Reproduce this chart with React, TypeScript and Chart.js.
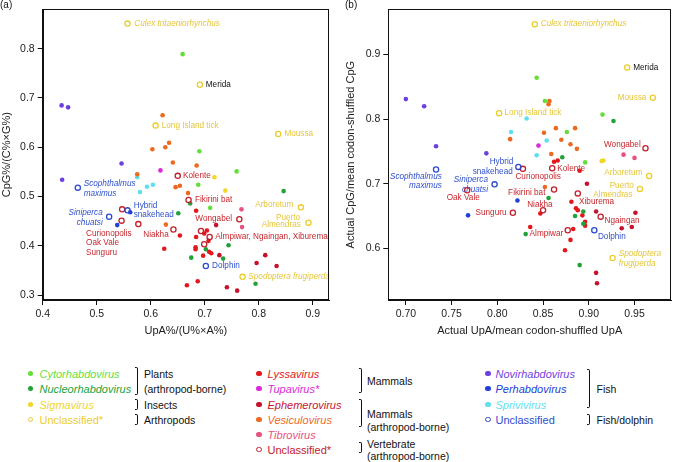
import React, { useEffect, useRef } from "react";
import { Chart, registerables } from "chart.js";

Chart.register(...registerables);

const FONT = '"Liberation Sans", Arial, Helvetica, sans-serif';

// ---------- colours ----------
const COL = {
  cyto: "#64df3a",
  nucleo: "#21a238",
  sigma: "#f0d62a",
  unclIns: "#eccd2e",
  lyssa: "#e3181d",
  tupa: "#dc2ad8",
  ephem: "#c6132d",
  vesic: "#ec6a1f",
  tibro: "#e6517e",
  unclMam: "#c4202c",
  novi: "#6e3fe0",
  perh: "#2040d8",
  spriv: "#5fe0f0",
  unclFish: "#2c4bd2",
};
const TXT_Y = "#e6c63a";
const TXT_R = "#c8262d";
const TXT_B = "#3050cc";

// ---------- panel (a): UpA%/(U%xA%) vs CpG%/(C%xG%) ----------
const cytoA = [[0.659, 0.789], [0.690, 0.592], [0.759, 0.551], [0.688, 0.524], [0.710, 0.477]];
const nucleoA = [[0.846, 0.511], [0.673, 0.486], [0.651, 0.466], [0.702, 0.393], [0.744, 0.401], [0.675, 0.376], [0.734, 0.374], [0.794, 0.323]];
const sigmaA = [[0.718, 0.539], [0.738, 0.512]];
const unclInsA = [[0.557, 0.851], [0.691, 0.727], [0.609, 0.644], [0.836, 0.627], [0.878, 0.478], [0.892, 0.447], [0.770, 0.337]];
const lyssaA = [[0.684, 0.471], [0.654, 0.421], [0.699, 0.425], [0.704, 0.431], [0.684, 0.418], [0.707, 0.410], [0.625, 0.394], [0.683, 0.397], [0.683, 0.393], [0.708, 0.388], [0.712, 0.385], [0.697, 0.380], [0.667, 0.320], [0.687, 0.328]];
const ephemA = [[0.721, 0.442], [0.727, 0.381], [0.812, 0.381], [0.796, 0.365], [0.833, 0.359], [0.741, 0.316], [0.760, 0.309]];
const tupaA = [[0.618, 0.553]];
const vesicA = [[0.622, 0.665], [0.634, 0.609], [0.603, 0.596], [0.627, 0.600], [0.641, 0.569], [0.685, 0.563], [0.575, 0.545], [0.646, 0.519], [0.654, 0.522], [0.669, 0.507], [0.628, 0.443]];
const tibroA = [[0.768, 0.474], [0.769, 0.438]];
const unclMamA = [[0.650, 0.542], [0.670, 0.493], [0.547, 0.474], [0.546, 0.451], [0.577, 0.444], [0.764, 0.454], [0.642, 0.433], [0.693, 0.430], [0.709, 0.418], [0.699, 0.403]];
const noviA = [[0.435, 0.685], [0.447, 0.681], [0.546, 0.567], [0.436, 0.534]];
const perhA = [[0.562, 0.468], [0.538, 0.442]];
const sprivA = [[0.575, 0.539], [0.593, 0.520], [0.604, 0.524], [0.580, 0.509]];
const unclFishA = [[0.465, 0.518], [0.557, 0.472], [0.523, 0.459], [0.702, 0.359]];

const xTicksA = [0.4, 0.5, 0.6, 0.7, 0.8, 0.9];
const yTicksA = [0.3, 0.4, 0.5, 0.6, 0.7, 0.8];

// label anchors (data units): text, x, y, colour, align, italic
const labelsA = [
  ["Culex tritaeniorhynchus", 0.5696, 0.8513, TXT_Y, "left", true],
  ["Merida", 0.7019, 0.727, "#111", "left", false],
  ["Long Island tick", 0.6204, 0.644, TXT_Y, "left", false],
  ["Moussa", 0.8474, 0.627, TXT_Y, "left", false],
  ["Scophthalmus", 0.4759, 0.525, TXT_B, "left", true],
  ["maximus", 0.4759, 0.5067, TXT_B, "left", true],
  ["Kolente", 0.6598, 0.542, TXT_R, "left", false],
  ["Fikirini bat", 0.682, 0.4934, TXT_R, "left", false],
  ["Hybrid", 0.5685, 0.4816, TXT_B, "left", false],
  ["snakehead", 0.5685, 0.4632, TXT_B, "left", false],
  ["Siniperca", 0.5111, 0.4678, TXT_B, "right", true],
  ["chuatsi", 0.5111, 0.4467, TXT_B, "right", true],
  ["Curionopolis", 0.4802, 0.4244, TXT_R, "left", false],
  ["Oak Vale", 0.4802, 0.406, TXT_R, "left", false],
  ["Sunguru", 0.4802, 0.3869, TXT_R, "left", false],
  ["Niakha", 0.6333, 0.4224, TXT_R, "right", false],
  ["Wongabel", 0.7506, 0.4546, TXT_R, "right", false],
  ["Almpiwar, Ngaingan, Xiburema", 0.7196, 0.4179, TXT_R, "left", false],
  ["Arboretum", 0.8641, 0.4842, TXT_Y, "right", false],
  ["Puerto", 0.8765, 0.4579, TXT_Y, "right", false],
  ["Almendras", 0.8778, 0.4427, TXT_Y, "right", false],
  ["Dolphin", 0.7135, 0.3592, TXT_B, "left", false],
  ["Spodoptera frugiperda", 0.7807, 0.3375, TXT_Y, "left", true],
];

// ---------- panel (b): actual / codon-shuffled ----------
const cytoB = [[0.843, 0.864], [0.852, 0.828], [0.915, 0.807], [0.876, 0.780], [0.896, 0.733]];
const nucleoB = [[0.927, 0.797], [0.871, 0.741], [0.856, 0.678], [0.894, 0.657], [0.885, 0.650], [0.894, 0.638], [0.831, 0.622], [0.890, 0.574]];
const sigmaB = [[0.914, 0.735], [0.916, 0.736]];
const unclInsB = [[0.841, 0.947], [0.942, 0.880], [0.970, 0.833], [0.802, 0.809], [0.966, 0.712], [0.956, 0.692], [0.926, 0.585]];
const lyssaB = [[0.862, 0.734], [0.866, 0.736], [0.890, 0.720], [0.881, 0.672], [0.886, 0.662], [0.888, 0.659], [0.847, 0.654], [0.893, 0.651], [0.896, 0.641], [0.896, 0.635], [0.836, 0.633], [0.883, 0.630], [0.880, 0.613], [0.874, 0.597]];
const ephemB = [[0.898, 0.700], [0.908, 0.657], [0.951, 0.655], [0.936, 0.631], [0.947, 0.633], [0.908, 0.562], [0.909, 0.546]];
const tupaB = [[0.845, 0.759]];
const vesicB = [[0.857, 0.828], [0.856, 0.823], [0.814, 0.769], [0.851, 0.779], [0.864, 0.786], [0.885, 0.786], [0.870, 0.768], [0.880, 0.761], [0.887, 0.754], [0.859, 0.746], [0.852, 0.695]];
const tibroB = [[0.938, 0.745], [0.950, 0.740]];
const unclMamB = [[0.962, 0.755], [0.828, 0.723], [0.860, 0.724], [0.767, 0.690], [0.862, 0.691], [0.888, 0.685], [0.850, 0.659], [0.817, 0.655], [0.913, 0.649], [0.877, 0.628]];
const noviB = [[0.700, 0.831], [0.720, 0.820], [0.733, 0.758], [0.788, 0.747]];
const perhB = [[0.822, 0.674], [0.768, 0.651]];
const sprivB = [[0.832, 0.801], [0.815, 0.780], [0.854, 0.767], [0.843, 0.744]];
const unclFishB = [[0.733, 0.722], [0.823, 0.726], [0.797, 0.699], [0.906, 0.628]];

const xTicksB = [0.70, 0.75, 0.80, 0.85, 0.90, 0.95];
const yTicksB = [0.6, 0.7, 0.8, 0.9];

const labelsB = [
  ["Culex tritaeniorhynchus", 0.8475, 0.9473, TXT_Y, "left", true],
  ["Merida", 0.9486, 0.880, "#111", "left", false],
  ["Moussa", 0.963, 0.8333, TXT_Y, "right", false],
  ["Long Island tick", 0.8079, 0.8102, TXT_Y, "left", false],
  ["Wongabel", 0.9568, 0.760, TXT_R, "right", false],
  ["Hybrid", 0.8175, 0.7339, TXT_B, "right", false],
  ["snakehead", 0.8169, 0.7193, TXT_B, "right", false],
  ["Scophthalmus", 0.7393, 0.7102, TXT_B, "right", true],
  ["maximus", 0.7393, 0.6962, TXT_B, "right", true],
  ["Siniperca", 0.7898, 0.7057, TXT_B, "right", true],
  ["chuatsi", 0.7898, 0.6902, TXT_B, "right", true],
  ["Oak Vale", 0.7808, 0.6782, TXT_R, "right", false],
  ["Curionopolis", 0.8198, 0.7102, TXT_R, "left", false],
  ["Kolente", 0.8656, 0.7238, TXT_R, "left", false],
  ["Fikirini bat", 0.8526, 0.6867, TXT_R, "right", false],
  ["Niakha", 0.8605, 0.668, TXT_R, "right", false],
  ["Xiburema", 0.8894, 0.6717, TXT_R, "left", false],
  ["Sunguru", 0.810, 0.6551, TXT_R, "right", false],
  ["Ngaingan", 0.9172, 0.6431, TXT_R, "left", false],
  ["Almpiwar", 0.8721, 0.6224, TXT_R, "right", false],
  ["Dolphin", 0.910, 0.6184, TXT_B, "left", false],
  ["Arboretum", 0.9587, 0.7163, TXT_Y, "right", false],
  ["Puerto", 0.9492, 0.6962, TXT_Y, "right", false],
  ["Almendras", 0.9478, 0.6837, TXT_Y, "right", false],
  ["Spodoptera", 0.9327, 0.5913, TXT_Y, "left", true],
  ["frugiperda", 0.9327, 0.5762, TXT_Y, "left", true],
];

// ---------- helpers ----------
function ds(label: string, pts: number[][], color: string, open = false) {
  return {
    label,
    data: pts.map(([x, y]) => ({ x, y })),
    pointRadius: open ? 2.6 : 2.3,
    pointHoverRadius: open ? 2.6 : 2.3,
    pointBackgroundColor: open ? "rgba(255,255,255,0)" : color,
    pointBorderColor: color,
    pointBorderWidth: open ? 1.3 : 0,
    showLine: false,
  };
}

function makeDatasets(s: any) {
  return [
    ds("Unclassified fish", s.unclFish, COL.unclFish, true),
    ds("Unclassified mammal", s.unclMam, COL.unclMam, true),
    ds("Unclassified insect", s.unclIns, COL.unclIns, true),
    ds("Cytorhabdovirus", s.cyto, COL.cyto),
    ds("Nucleorhabdovirus", s.nucleo, COL.nucleo),
    ds("Sigmavirus", s.sigma, COL.sigma),
    ds("Lyssavirus", s.lyssa, COL.lyssa),
    ds("Tupavirus", s.tupa, COL.tupa),
    ds("Ephemerovirus", s.ephem, COL.ephem),
    ds("Vesiculovirus", s.vesic, COL.vesic),
    ds("Tibrovirus", s.tibro, COL.tibro),
    ds("Novirhabdovirus", s.novi, COL.novi),
    ds("Perhabdovirus", s.perh, COL.perh),
    ds("Sprivivirus", s.spriv, COL.spriv),
  ];
}

function labelPlugin(labels: any[]) {
  return {
    id: "ptLabels",
    afterDatasetsDraw(chart: any) {
      const { ctx, scales } = chart;
      ctx.save();
      for (const [t, x, y, c, a, it] of labels) {
        ctx.font = `${it ? "italic " : ""}8.2px ${FONT}`;
        ctx.fillStyle = c;
        ctx.textAlign = a;
        ctx.textBaseline = "middle";
        ctx.fillText(t, scales.x.getPixelForValue(x), scales.y.getPixelForValue(y));
      }
      ctx.restore();
    },
  };
}

const boxPlugin = {
  id: "box",
  afterDraw(chart: any) {
    const { ctx, chartArea: a } = chart;
    ctx.save();
    ctx.strokeStyle = "#111";
    ctx.lineWidth = 1;
    ctx.strokeRect(Math.round(a.left) + 0.5, Math.round(a.top) + 0.5, Math.round(a.right - a.left) - 1, Math.round(a.bottom - a.top) - 1);
    ctx.restore();
  },
};

function axis(opts: any) {
  const { horizontal, min, max, ticks, decimals, title, size, titlePad } = opts;
  return {
    type: "linear",
    min,
    max,
    afterFit: (s: any) => {
      if (horizontal) s.height = size;
      else s.width = size;
    },
    afterBuildTicks: (s: any) => {
      s.ticks = ticks.map((v: number) => ({ value: v }));
    },
    grid: { drawOnChartArea: false, drawTicks: true, tickLength: 5, color: "#111", tickWidth: 1 },
    border: { display: true, color: "#111", width: 1 },
    ticks: {
      autoSkip: false,
      maxRotation: 0,
      padding: 3,
      color: "#222",
      font: { family: FONT, size: 10.5 },
      callback: (v: any) => Number(v).toFixed(decimals),
    },
    title: {
      display: true,
      text: title,
      color: "#222",
      font: { family: FONT, size: 11 },
      padding: titlePad,
    },
  };
}

function ScatterPanel(props: any) {
  const ref = useRef<HTMLCanvasElement>(null);
  useEffect(() => {
    if (!ref.current) return;
    const chart = new Chart(ref.current, {
      type: "scatter",
      data: { datasets: makeDatasets(props.series) as any },
      options: {
        animation: false,
        responsive: false,
        events: [],
        layout: { padding: props.padding },
        plugins: { legend: { display: false }, tooltip: { enabled: false } },
        scales: {
          x: axis({ horizontal: true, ...props.x }) as any,
          y: axis({ horizontal: false, ...props.y }) as any,
        },
      },
      plugins: [labelPlugin(props.labels), boxPlugin],
    });
    return () => chart.destroy();
  }, []);
  return (
    <canvas
      ref={ref}
      width={props.w}
      height={340}
      style={{ position: "absolute", left: props.left, top: 0, width: props.w, height: 340 }}
    />
  );
}

// ---------- legend ----------
const legendItems = [
  // [text, colour, italic, open, dotX, textX, rowY]
  ["Cytorhabdovirus", COL.cyto, true, false, 30.7, 39.5, 373.5],
  ["Nucleorhabdovirus", COL.nucleo, true, false, 30.7, 39.5, 389],
  ["Sigmavirus", COL.sigma, true, false, 30.7, 39.5, 404.5],
  ["Unclassified*", COL.unclIns, false, true, 30.7, 39.5, 419.5],
  ["Lyssavirus", COL.lyssa, true, false, 259.3, 267.5, 373.5],
  ["Tupavirus*", COL.tupa, true, false, 259.3, 267.5, 389],
  ["Ephemerovirus", COL.ephem, true, false, 259.3, 267.5, 404.5],
  ["Vesiculovirus", COL.vesic, true, false, 259.3, 267.5, 419.5],
  ["Tibrovirus", COL.tibro, true, false, 259.3, 267.5, 434.5],
  ["Unclassified*", COL.unclMam, false, true, 259.3, 267.5, 450],
  ["Novirhabdovirus", COL.novi, true, false, 488.3, 495.5, 373.5],
  ["Perhabdovirus", COL.perh, true, false, 488.3, 495.5, 389],
  ["Sprivivirus", COL.spriv, true, false, 488.3, 495.5, 404.5],
  ["Unclassified", COL.unclFish, false, true, 488.3, 495.5, 419.5],
];

const legendGroups = [
  // bracketX, y1, y2, textX, lines [text, y]
  [138, 367, 395, 144, [["Plants", 373.5], ["(arthropod-borne)", 388.5]]],
  [138, 399, 410, 144, [["Insects", 404.5]]],
  [138, 414, 425, 144, [["Arthropods", 419.5]]],
  [362, 368, 393, 367, [["Mammals", 381]]],
  [362, 399, 427, 367, [["Mammals", 413.7], ["(arthropod-borne)", 427]]],
  [362, 442, 453, 367, [["Vertebrate", 444], ["(arthropod-borne)", 455.5]]],
  [590, 369, 408, 596.5, [["Fish", 389.3]]],
  [590, 414, 425, 596.5, [["Fish/dolphin", 419.5]]],
];

function Legend() {
  return (
    <>
      {legendItems.map(([t, c, it, open, dx, tx, y]: any, i) => (
        <React.Fragment key={"li" + i}>
          <div
            style={{
              position: "absolute",
              left: dx - 3,
              top: y - 3,
              width: open ? 3.4 : 5.4,
              height: open ? 3.4 : 5.4,
              borderRadius: "50%",
              background: open ? "transparent" : c,
              border: open ? `1.3px solid ${c}` : "none",
            }}
          />
          <div
            style={{
              position: "absolute",
              left: tx,
              top: y - 7,
              lineHeight: "14px",
              fontSize: 11,
              fontStyle: it ? "italic" : "normal",
              fontFamily: FONT,
              color: c,
              whiteSpace: "nowrap",
            }}
          >
            {t}
          </div>
        </React.Fragment>
      ))}
      {legendGroups.map(([bx, y1, y2, tx, lines]: any, i) => (
        <React.Fragment key={"lg" + i}>
          <div
            style={{
              position: "absolute",
              left: bx - 3,
              top: y1,
              width: 2,
              height: y2 - y1 - 2,
              borderTop: "1.2px solid #111",
              borderRight: "1.2px solid #111",
              borderBottom: "1.2px solid #111",
              borderRadius: "0 2px 2px 0",
            }}
          />
          {lines.map(([lt, ly]: any, j: number) => (
            <div
              key={j}
              style={{
                position: "absolute",
                left: tx,
                top: ly - 7,
                lineHeight: "14px",
                fontSize: 10.5,
                fontFamily: FONT,
                color: "#111",
                whiteSpace: "nowrap",
              }}
            >
              {lt}
            </div>
          ))}
        </React.Fragment>
      ))}
    </>
  );
}

export default function App() {
  const seriesA = { cyto: cytoA, nucleo: nucleoA, sigma: sigmaA, unclIns: unclInsA, lyssa: lyssaA, ephem: ephemA, tupa: tupaA, vesic: vesicA, tibro: tibroA, unclMam: unclMamA, novi: noviA, perh: perhA, spriv: sprivA, unclFish: unclFishA };
  const seriesB = { cyto: cytoB, nucleo: nucleoB, sigma: sigmaB, unclIns: unclInsB, lyssa: lyssaB, ephem: ephemB, tupa: tupaB, vesic: vesicB, tibro: tibroB, unclMam: unclMamB, novi: noviB, perh: perhB, spriv: sprivB, unclFish: unclFishB };
  return (
    <div style={{ position: "fixed", left: 0, top: 0, width: 675, height: 462, background: "#fff", overflow: "hidden", fontFamily: FONT }}>
      <ScatterPanel
        left={0}
        w={335}
        padding={{ left: 0, top: 1, right: 6, bottom: 0 }}
        series={seriesA}
        labels={labelsA}
        x={{ min: 0.4, max: 0.93, ticks: xTicksA, decimals: 1, title: "UpA%/(U%×A%)", size: 40, titlePad: { top: 0, bottom: 2 } }}
        y={{ min: 0.29, max: 0.88, ticks: yTicksA, decimals: 1, title: "CpG%/(C%×G%)", size: 42.7, titlePad: { top: 0, bottom: 0 } }}
      />
      <ScatterPanel
        left={335}
        w={340}
        padding={{ left: 0, top: 1, right: 1, bottom: 0 }}
        series={seriesB}
        labels={labelsB}
        x={{ min: 0.6808, max: 0.990, ticks: xTicksB, decimals: 2, title: "Actual UpA/mean codon-shuffled UpA", size: 40, titlePad: { top: 0, bottom: 2 } }}
        y={{ min: 0.52, max: 0.97, ticks: yTicksB, decimals: 1, title: "Actual CpG/mean codon-shuffled CpG", size: 53.3, titlePad: { top: 9.4, bottom: 0 } }}
      />
      <div style={{ position: "absolute", left: 0, top: -1, fontSize: 10, fontFamily: FONT, color: "#111" }}>(a)</div>
      <div style={{ position: "absolute", left: 345, top: -1, fontSize: 10, fontFamily: FONT, color: "#111" }}>(b)</div>
      <Legend />
    </div>
  );
}
